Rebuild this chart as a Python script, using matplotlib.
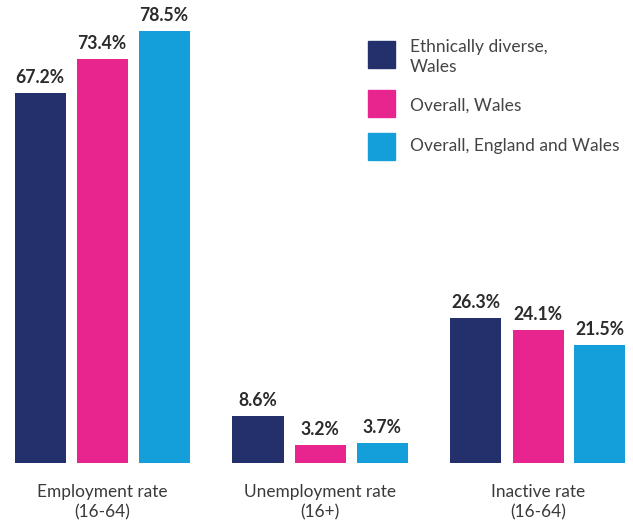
import numpy as np
import matplotlib.pyplot as plt
from matplotlib.patches import Rectangle

# data
categories = ["Employment rate\n(16-64)", "Unemployment rate\n(16+)", "Inactive rate\n(16-64)"]
series_names = ["Ethnically diverse,\nWales", "Overall, Wales", "Overall, England and Wales"]
ethnic_wales = [67.2, 8.6, 26.3]
overall_wales = [73.4, 3.2, 24.1]
overall_eng_wales = [78.5, 3.7, 21.5]
colors = ["#24306B", "#E8258F", "#159FDA"]

plt.rcParams['font.family'] = ['Lato', 'DejaVu Sans']

W, H = 633, 522
fig = plt.figure(figsize=(W / 100, H / 100), dpi=100)
base = 463
ax = fig.add_axes([0, (H - base) / H, 1, base / H])

step = 218.0
x = np.arange(len(categories))
width = 51 / step
offset = 62 / step

all_series = [ethnic_wales, overall_wales, overall_eng_wales]
for i, vals in enumerate(all_series):
    pos = x + (i - 1) * offset
    ax.bar(pos, vals, width=width, color=colors[i])
    for p, v in zip(pos, vals):
        ax.annotate(f"{v}%", (p, v), xytext=(0, 5), textcoords="offset points",
                    ha="center", va="bottom", fontsize=12.7, fontweight="bold",
                    color="#2b2b2b")

ax.set_xlim(-102 / step, (W - 102) / step)
ax.set_ylim(0, 84.1)
ax.axis("off")

# category labels under the groups
for xi, cat in zip(x, categories):
    px = (xi - ax.get_xlim()[0]) / (ax.get_xlim()[1] - ax.get_xlim()[0])
    fig.text(px, 1 - 502 / H, cat, ha="center", va="center", fontsize=12.4,
             color="#3a3a3a", linespacing=1.3)

# legend drawn by hand
sq_tops = [41, 90, 133]
text_y = [57, 106, 146]
for top, ty, name, c in zip(sq_tops, text_y, series_names, colors):
    fig.add_artist(Rectangle((368 / W, 1 - (top + 27) / H), 27 / W, 27 / H,
                             transform=fig.transFigure, color=c))
    fig.text(410 / W, 1 - ty / H, name, ha="left", va="center", fontsize=12.5,
             color="#444444", linespacing=1.3)

fig.savefig("out.png", dpi=100)
